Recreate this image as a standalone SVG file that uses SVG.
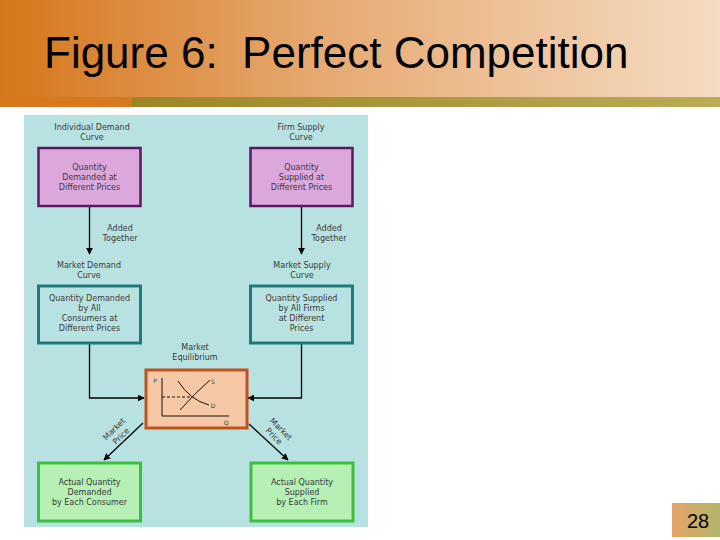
<svg xmlns="http://www.w3.org/2000/svg" width="720" height="540" viewBox="0 0 720 540">
<defs>
<linearGradient id="tg" x1="0" y1="0" x2="1" y2="0">
<stop offset="0" stop-color="#D5761A"/>
<stop offset="0.45" stop-color="#E6AA72"/>
<stop offset="1" stop-color="#F5DCC2"/>
</linearGradient>
<linearGradient id="og" x1="0" y1="0" x2="1" y2="0">
<stop offset="0" stop-color="#9C8624"/>
<stop offset="1" stop-color="#BBAA58"/>
</linearGradient>
<linearGradient id="pg" x1="0" y1="0" x2="1" y2="0">
<stop offset="0" stop-color="#E4A466"/>
<stop offset="1" stop-color="#B4B46C"/>
</linearGradient>
<marker id="ah" viewBox="0 0 10 10" refX="9" refY="5" markerWidth="7" markerHeight="7" orient="auto" markerUnits="userSpaceOnUse">
<path d="M0,0 L10,5 L0,10 Z" fill="#000"/>
</marker>
<style>
.t{font-family:"DejaVu Sans",Verdana,sans-serif;font-size:8px;fill:#3a3a3a;text-anchor:middle}
.purple{fill:#DCA8DC;stroke:#5A1A60;stroke-width:2.5}
.teal{fill:#B8E2E2;stroke:#1F7B7B;stroke-width:3}
.orange{fill:#F6C8A6;stroke:#C0521E;stroke-width:3}
.green{fill:#B6F0B4;stroke:#3CC03C;stroke-width:3}
.ar{fill:none;stroke:#000;stroke-width:1.3;marker-end:url(#ah)}
.g{fill:none;stroke:#111;stroke-width:1}
</style>
</defs>
<rect x="0" y="0" width="720" height="540" fill="#fff"/>
<rect x="0" y="0" width="720" height="97" fill="url(#tg)"/>
<rect x="0" y="97" width="132" height="10" fill="#D6791C"/>
<rect x="132" y="97" width="588" height="10" fill="url(#og)"/>
<text x="44" y="68" font-family="Liberation Sans, Arial, sans-serif" font-size="44" fill="#000" xml:space="preserve" style="white-space:pre">Figure 6:  Perfect Competition</text>

<rect x="24" y="115" width="344" height="412" fill="#B8E2E2"/>

<g id="connectors">
<line class="ar" x1="89.5" y1="207" x2="89.5" y2="254"/>
<line class="ar" x1="301.5" y1="207" x2="301.5" y2="254"/>
<polyline class="ar" points="89.5,344 89.5,398 144,398"/>
<polyline class="ar" points="301.5,344 301.5,398 248,398"/>
<line class="ar" x1="143" y1="423" x2="104" y2="460"/>
<line class="ar" x1="249" y1="424" x2="288" y2="460"/>
</g>

<g id="labels">
<text class="t" x="92" y="130">Individual Demand</text>
<text class="t" x="92" y="140">Curve</text>
<text class="t" x="301" y="130">Firm Supply</text>
<text class="t" x="301" y="140">Curve</text>
<text class="t" x="120" y="231">Added</text>
<text class="t" x="120" y="241">Together</text>
<text class="t" x="329" y="231">Added</text>
<text class="t" x="329" y="241">Together</text>
<text class="t" x="89" y="268">Market Demand</text>
<text class="t" x="89" y="278">Curve</text>
<text class="t" x="302" y="268">Market Supply</text>
<text class="t" x="302" y="278">Curve</text>
<text class="t" x="195" y="350">Market</text>
<text class="t" x="195" y="360">Equilibrium</text>
<text class="t" transform="translate(116,431) rotate(-45)">Market</text>
<text class="t" transform="translate(123,438) rotate(-45)">Price</text>
<text class="t" transform="translate(279,431) rotate(45)">Market</text>
<text class="t" transform="translate(272,438) rotate(45)">Price</text>
</g>

<g id="individual-demand">
<rect class="purple" x="38.5" y="148" width="102" height="58"/>
<text class="t" x="89.5" y="170">Quantity</text>
<text class="t" x="89.5" y="180">Demanded at</text>
<text class="t" x="89.5" y="190">Different Prices</text>
</g>
<g id="firm-supply">
<rect class="purple" x="250.5" y="148" width="102" height="58"/>
<text class="t" x="301.5" y="170">Quantity</text>
<text class="t" x="301.5" y="180">Supplied at</text>
<text class="t" x="301.5" y="190">Different Prices</text>
</g>
<g id="market-demand">
<rect class="teal" x="38.5" y="286" width="102" height="57"/>
<text class="t" x="89.5" y="301">Quantity Demanded</text>
<text class="t" x="89.5" y="311">by All</text>
<text class="t" x="89.5" y="321">Consumers at</text>
<text class="t" x="89.5" y="331">Different Prices</text>
</g>
<g id="market-supply">
<rect class="teal" x="250.5" y="286" width="102" height="57"/>
<text class="t" x="301.5" y="301">Quantity Supplied</text>
<text class="t" x="301.5" y="311">by All Firms</text>
<text class="t" x="301.5" y="321">at Different</text>
<text class="t" x="301.5" y="331">Prices</text>
</g>
<g id="equilibrium">
<rect class="orange" x="146" y="370" width="101" height="58"/>
<polyline class="g" points="162,378 162,416 229,416"/>
<line x1="162" y1="397" x2="192" y2="397" stroke="#111" stroke-width="1" stroke-dasharray="3,2"/>
<path class="g" d="M180,410 Q196,392 210,380"/>
<path class="g" d="M178,381 Q190,400 209,405"/>
<text class="t" style="font-size:6px" x="155" y="383">P</text>
<text class="t" style="font-size:6px" x="213" y="384">S</text>
<text class="t" style="font-size:6px" x="213" y="408">D</text>
<text class="t" style="font-size:6px" x="226" y="425">Q</text>
</g>
<g id="demand-each">
<rect class="green" x="38.5" y="463" width="102" height="58"/>
<text class="t" x="89.5" y="485">Actual Quantity</text>
<text class="t" x="89.5" y="495">Demanded</text>
<text class="t" x="89.5" y="505">by Each Consumer</text>
</g>
<g id="supply-each">
<rect class="green" x="251" y="463" width="102" height="58"/>
<text class="t" x="302" y="485">Actual Quantity</text>
<text class="t" x="302" y="495">Supplied</text>
<text class="t" x="302" y="505">by Each Firm</text>
</g>

<rect x="672" y="503" width="48" height="34" fill="url(#pg)"/>
<text x="698" y="528" font-family="Liberation Sans, Arial, sans-serif" font-size="20" fill="#000" text-anchor="middle">28</text>
</svg>
